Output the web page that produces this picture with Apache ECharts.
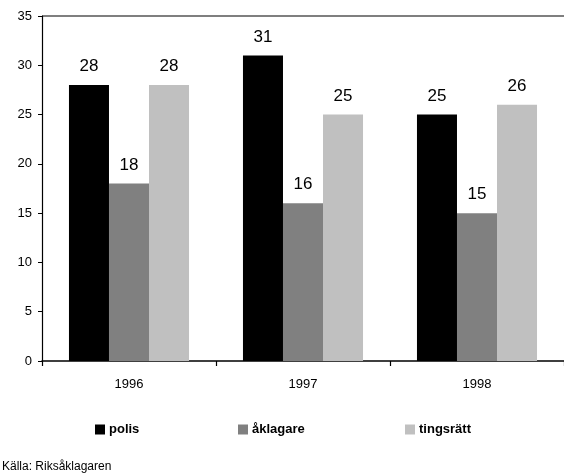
<!DOCTYPE html>
<html>
<head>
<meta charset="utf-8">
<script src="https://cdn.jsdelivr.net/npm/echarts@6/dist/echarts.min.js"></script>
<style>
  html, body { margin: 0; padding: 0; background: #fff; }
  #chart { width: 564px; height: 475px; }
</style>
</head>
<body>
<div id="chart"></div>
<script>
// Ärenden per instans och år
const years = ['1996', '1997', '1998'];
const polis = [28, 31, 25];
const aklagare = [18, 16, 15];
const tingsratt = [28, 25, 26];
const yTicks = [0, 5, 10, 15, 20, 25, 30, 35];

const seriesNames = ['polis', 'åklagare', 'tingsrätt'];
const seriesValues = [polis, aklagare, tingsratt];
const seriesColors = ['#000000', '#808080', '#c0c0c0'];

const sans = '"Liberation Sans", Arial, sans-serif';

const chart = echarts.init(document.getElementById('chart'), null, { renderer: 'canvas' });

const legendLefts = [90, 233, 400];

chart.setOption({
  animation: false,
  backgroundColor: '#ffffff',
  grid: { left: 42, right: 0, top: 16, bottom: 114, containLabel: false },
  xAxis: {
    type: 'category',
    data: years,
    axisLine: { show: true, lineStyle: { color: '#000', width: 1.5 } },
    axisTick: { show: true, interval: 0, length: 5, inside: false, lineStyle: { color: '#000', width: 1.2 } },
    axisLabel: { color: '#000', fontFamily: sans, fontSize: 13, margin: 17 },
    splitLine: { show: false }
  },
  yAxis: {
    type: 'value',
    min: yTicks[0],
    max: yTicks[yTicks.length - 1],
    interval: 5,
    axisLine: { show: true, lineStyle: { color: '#000', width: 1.2 } },
    axisTick: { show: true, length: 4, lineStyle: { color: '#000', width: 1 } },
    axisLabel: { color: '#000', fontFamily: sans, fontSize: 13, margin: 10 },
    splitLine: { show: false }
  },
  legend: seriesNames.map((name, i) => ({
    data: [name],
    left: legendLefts[i],
    top: 418,
    icon: 'rect',
    itemWidth: 10,
    itemHeight: 10,
    itemGap: 4,
    textStyle: { color: '#000', fontFamily: sans, fontWeight: 'bold', fontSize: 13, padding: [0, 0, 0, -1] }
  })),
  graphic: [
    {
      // Top frame line of the plot area
      type: 'line',
      shape: { x1: 42, y1: 16, x2: 564, y2: 16 },
      style: { stroke: '#000', lineWidth: 1.2 }
    },
    {
      type: 'text',
      left: 2,
      top: 461,
      style: { text: 'Källa: Riksåklagaren', fill: '#000', font: '12px ' + sans }
    }
  ],
  series: seriesNames.map((name, i) => ({
    name: name,
    type: 'bar',
    data: seriesValues[i],
    barGap: '0%',
    barCategoryGap: '31%',
    itemStyle: { color: seriesColors[i] },
    label: {
      show: true,
      position: 'top',
      distance: 10,
      color: '#000',
      fontFamily: sans,
      fontSize: 17
    }
  }))
});
</script>
</body>
</html>
